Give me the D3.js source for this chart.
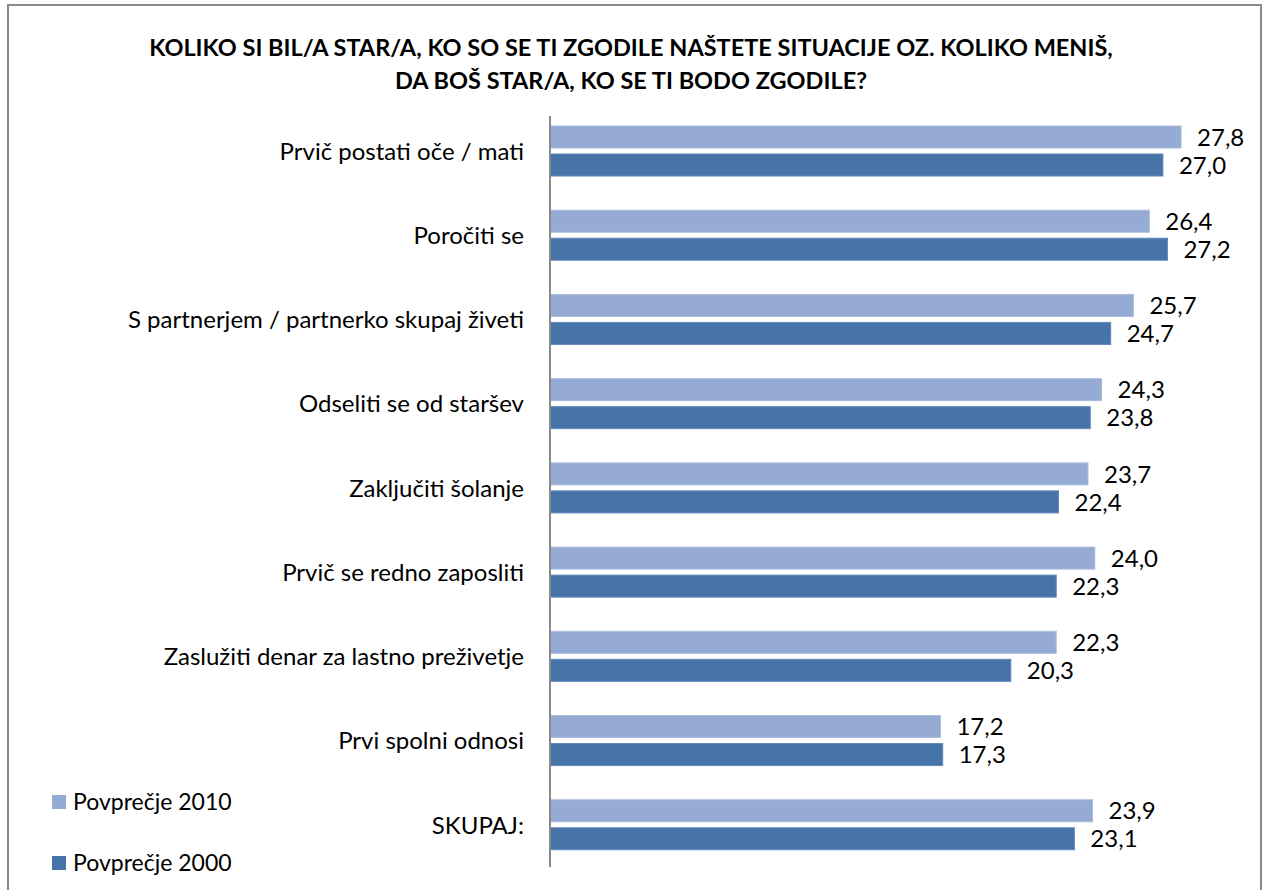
<!DOCTYPE html>
<html>
<head>
<meta charset="utf-8">
<script src="https://cdn.jsdelivr.net/npm/d3@7"></script>
<style>
  body { margin: 0; background: #fff; }
  svg { display: block; font-family: Lato, "Open Sans", sans-serif; }
  .cat-label, .value-label { font-size: 24px; fill: #000; }
  .legend-label { font-size: 23px; fill: #000; }
  .title { font-size: 23.5px; font-weight: bold; fill: #000; }
</style>
</head>
<body>
<div id="chart"></div>
<script>
const categories = [
    "Prvič postati oče / mati",
    "Poročiti se",
    "S partnerjem / partnerko skupaj živeti",
    "Odseliti se od staršev",
    "Zaključiti šolanje",
    "Prvič se redno zaposliti",
    "Zaslužiti denar za lastno preživetje",
    "Prvi spolni odnosi",
    "SKUPAJ:"
];
const series = ["Povprečje 2010", "Povprečje 2000"];
const values2010 = [27.8, 26.4, 25.7, 24.3, 23.7, 24.0, 22.3, 17.2, 23.9];
const values2000 = [27.0, 27.2, 24.7, 23.8, 22.4, 22.3, 20.3, 17.3, 23.1];
const titleLines = [
    "KOLIKO SI BIL/A STAR/A, KO SO SE TI ZGODILE NAŠTETE SITUACIJE OZ. KOLIKO MENIŠ,",
    "DA BOŠ STAR/A, KO SE TI BODO ZGODILE?"
];

const width = 1263, height = 890;
const colors = { "Povprečje 2010": "#95abd3", "Povprečje 2000": "#4674a9" };
const strokes = { "Povprečje 2010": "#a9bcdd", "Povprečje 2000": "#6188bb" };

const rows = categories.map((c, i) => ({
    cat: c,
    vals: [
        { s: series[0], v: values2010[i] },
        { s: series[1], v: values2000[i] }
    ]
}));

const svg = d3.select("#chart")
    .append("svg")
    .attr("width", width)
    .attr("height", height);

// Chart frame
svg.append("rect")
    .attr("x", 8).attr("y", 5)
    .attr("width", 1253).attr("height", 900)
    .attr("fill", "none")
    .attr("stroke", "#8a8a8a")
    .attr("stroke-width", 2);

// Title
svg.selectAll("text.title")
    .data(titleLines)
    .join("text")
    .attr("class", "title")
    .attr("x", 631)
    .attr("y", (d, i) => 56 + i * 33)
    .attr("text-anchor", "middle")
    .text(d => d);

// Scales
const xScale = d3.scaleLinear().domain([0, 30]).range([550, 1231]);
const yScale = d3.scaleBand().domain(categories).range([109, 867]);
const ySub = d3.scaleBand().domain(series).range([17, 67]).paddingInner(0.214);

// Bars
const groups = svg.selectAll("g.group")
    .data(rows)
    .join("g")
    .attr("class", "group")
    .attr("transform", d => `translate(0, ${yScale(d.cat)})`);

groups.selectAll("rect")
    .data(d => d.vals)
    .join("rect")
    .attr("x", xScale(0))
    .attr("y", d => ySub(d.s))
    .attr("width", d => xScale(d.v) - xScale(0))
    .attr("height", ySub.bandwidth())
    .attr("fill", d => colors[d.s])
    .attr("stroke", d => strokes[d.s])
    .attr("stroke-width", 1);

// Value labels
groups.selectAll("text.value-label")
    .data(d => d.vals)
    .join("text")
    .attr("class", "value-label")
    .attr("x", d => xScale(d.v) + 16)
    .attr("y", d => ySub(d.s) + ySub.bandwidth() / 2)
    .attr("dy", "0.36em")
    .text(d => d3.format(".1f")(d.v).replace(".", ","));

// Category labels
groups.append("text")
    .attr("class", "cat-label")
    .attr("x", 524)
    .attr("y", yScale.bandwidth() / 2)
    .attr("dy", "0.36em")
    .attr("text-anchor", "end")
    .text(d => d.cat);

// Vertical axis line
svg.append("line")
    .attr("x1", xScale(0)).attr("x2", xScale(0))
    .attr("y1", 116).attr("y2", 867)
    .attr("stroke", "#8a8a8a")
    .attr("stroke-width", 2);

// Legend
const legend = svg.append("g")
    .attr("class", "legend")
    .attr("transform", "translate(52, 795)");

series.forEach((s, i) => {
    const g = legend.append("g").attr("transform", `translate(0, ${i * 61})`);
    g.append("rect")
        .attr("width", 14)
        .attr("height", 14)
        .attr("fill", colors[s]);
    g.append("text")
        .attr("class", "legend-label")
        .attr("x", 21)
        .attr("y", 7)
        .attr("dy", "0.36em")
        .text(s);
});
</script>
</body>
</html>
